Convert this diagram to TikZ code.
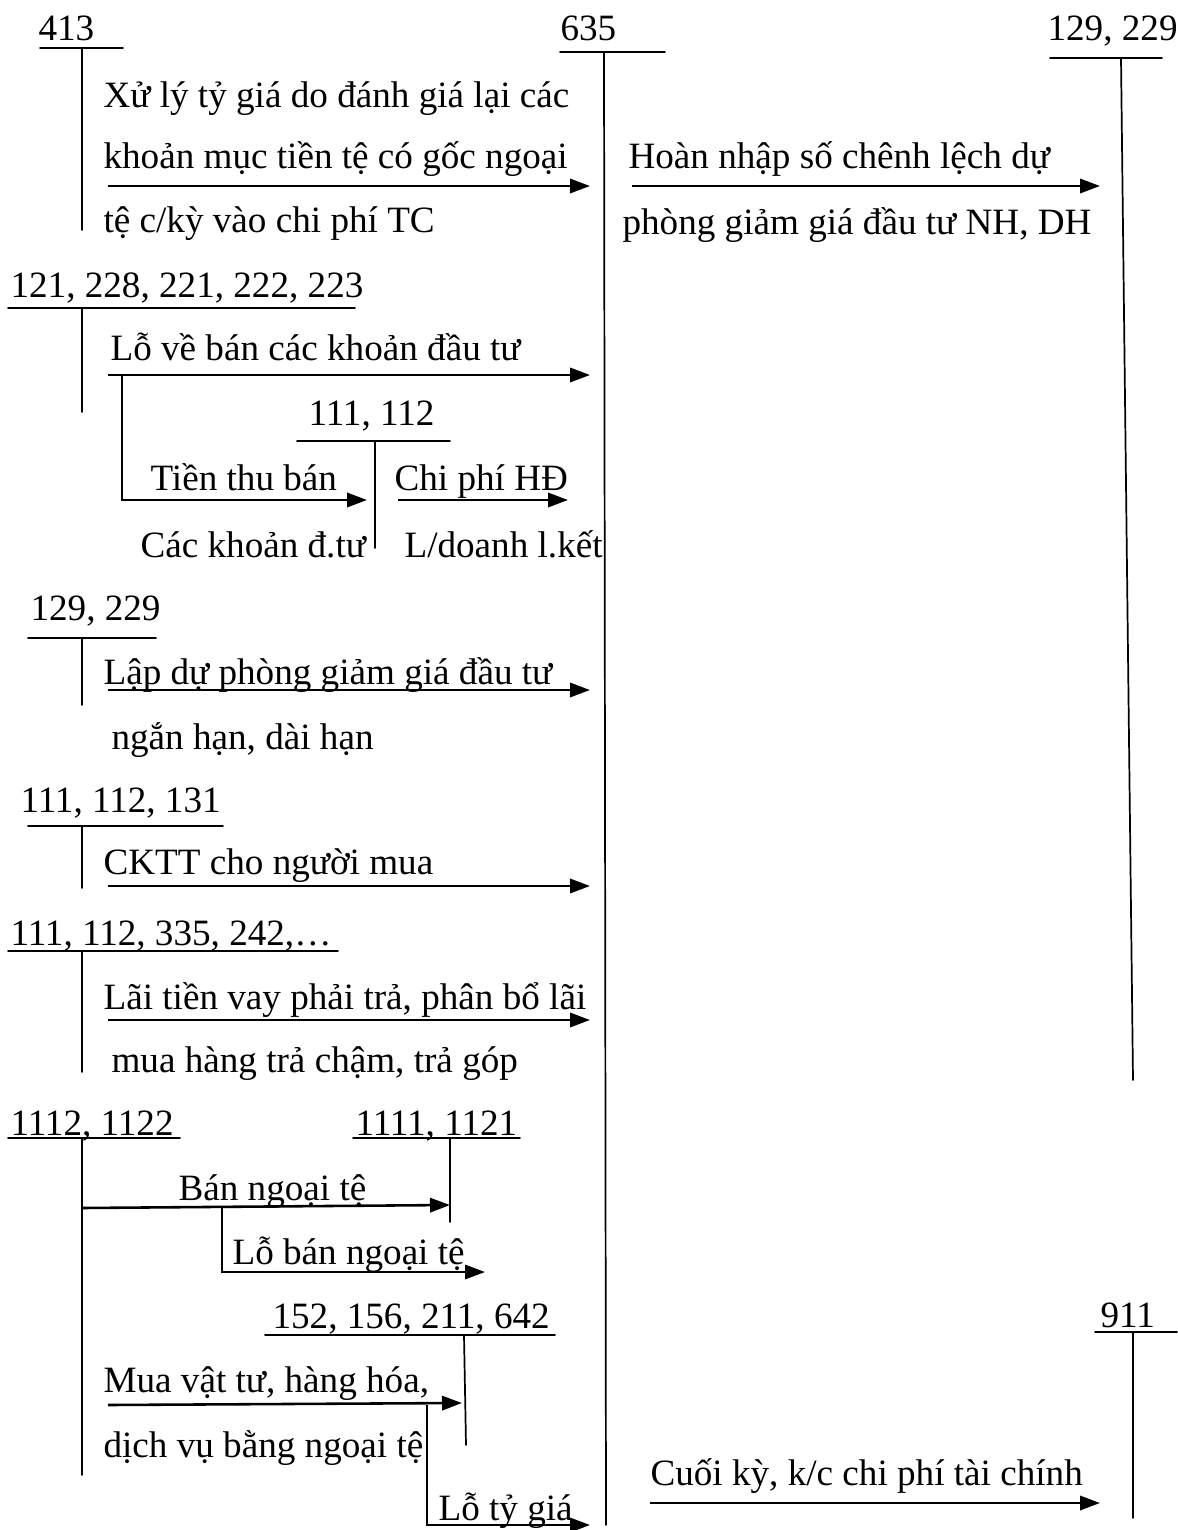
\documentclass[tikz,border=0pt]{standalone}
\usepackage{fontspec}
\setmainfont{Liberation Serif}
\usetikzlibrary{arrows.meta}
\tikzset{
  acct/.style={line width=0.6pt, line cap=round},
  flow/.style={line width=0.9pt, -{Triangle[length=7pt,width=5pt]}},
  lbl/.style={anchor=base west, inner sep=0pt, font=\fontsize{13}{15}\selectfont},
}
\begin{document}
\begin{tikzpicture}[x=0.35pt, y=-0.35pt]
% page frame in pixels of the sheet
\useasboundingbox (0,0) rectangle (1177,1530);
% Account labels
\node[lbl] (n413) at (38,40) {413};
\node[lbl] (n635) at (560,40) {635};
\node[lbl] (n129top) at (1047,40) {129, 229};
\node[lbl] (n121) at (10,297) {121, 228, 221, 222, 223};
\node[lbl] (n111a) at (308,425) {111, 112};
\node[lbl] (n129) at (30,620) {129, 229};
\node[lbl] (n111b) at (20,812) {111, 112, 131};
\node[lbl] (n111c) at (10,945) {111, 112, 335, 242,\ldots};
\node[lbl] (n1112) at (10,1135) {1112, 1122};
\node[lbl] (n1111) at (355,1135) {1111, 1121};
\node[lbl] (n152) at (272,1328) {152, 156, 211, 642};
\node[lbl] (n911) at (1100,1327) {911};
% T-accounts
\begin{scope}[acct]
  \draw (40,48) -- (123,48);      \draw (82,48) -- (82,230);
  \draw (560,52) -- (665,52);     \draw (604,52) -- (606,1525);
  \draw (1050,58) -- (1162,58);   \draw (1121,58) -- (1133,1080);
  \draw (8,308) -- (355,308);     \draw (82,308) -- (82,412);
  \draw (297,441) -- (450,441);   \draw (375,441) -- (375,548);
  \draw (28,638) -- (156,638);    \draw (82,638) -- (82,705);
  \draw (28,826) -- (223,826);    \draw (82,826) -- (82,888);
  \draw (8,951) -- (338,951);     \draw (82,951) -- (82,1072);
  \draw (8,1138) -- (180,1138);   \draw (82,1138) -- (82,1475);
  \draw (353,1138) -- (520,1138); \draw (450,1138) -- (450,1222);
  \draw (265,1335) -- (555,1335); \draw (464,1335) -- (466,1445);
  \draw (1095,1332) -- (1177,1332); \draw (1133,1332) -- (1133,1518);
\end{scope}
% Arrow ends
\coordinate (a1s) at (108,186);  \coordinate (a1e) at (590,186);
\coordinate (a2s) at (632,186);  \coordinate (a2e) at (1100,186);
\coordinate (a3s) at (108,375);  \coordinate (a3e) at (590,375);
\coordinate (b3s) at (122,375);  \coordinate (b3m) at (122,500);
\coordinate (b3e) at (367,500);
\coordinate (a4s) at (398,500);  \coordinate (a4e) at (568,500);
\coordinate (a5s) at (108,690);  \coordinate (a5e) at (590,690);
\coordinate (a6s) at (108,886);  \coordinate (a6e) at (590,886);
\coordinate (a7s) at (108,1020); \coordinate (a7e) at (590,1020);
\coordinate (a8s) at (82,1208);  \coordinate (a8e) at (450,1205);
\coordinate (b8s) at (222,1207); \coordinate (b8m) at (222,1272);
\coordinate (b8e) at (485,1272);
\coordinate (a9s) at (108,1405); \coordinate (a9e) at (462,1403);
\coordinate (b9s) at (427,1405); \coordinate (b9m) at (427,1525);
\coordinate (b9e) at (590,1525);
\coordinate (a10s) at (650,1503); \coordinate (a10e) at (1100,1503);
% Flows
\draw[flow] (a1s) -- (a1e);
\draw[flow] (a2s) -- (a2e);
\draw[flow] (a3s) -- (a3e);
\draw[flow] (b3s) -- (b3m) -- (b3e);
\draw[flow] (a4s) -- (a4e);
\draw[flow] (a5s) -- (a5e);
\draw[flow] (a6s) -- (a6e);
\draw[flow] (a7s) -- (a7e);
\draw[flow] (a8s) -- (a8e);
\draw[flow] (b8s) -- (b8m) -- (b8e);
\draw[flow] (a9s) -- (a9e);
\draw[flow] (b9s) -- (b9m) -- (b9e);
\draw[flow] (a10s) -- (a10e);
% Texts
\node[lbl] (t1a) at (103,107) {Xử lý tỷ giá do đánh giá lại các};
\node[lbl] (t1b) at (103,168) {khoản mục tiền tệ có gốc ngoại};
\node[lbl] (t1c) at (103,232) {tệ c/kỳ vào chi phí TC};
\node[lbl] (t2a) at (628,168) {Hoàn nhập số chênh lệch dự};
\node[lbl] (t2b) at (622,234) {phòng giảm giá đầu tư NH, DH};
\node[lbl] (t3) at (110,360) {Lỗ về bán các khoản đầu tư};
\node[lbl] (t3a) at (150,490) {Tiền thu bán};
\node[lbl] (t3b) at (140,557) {Các khoản đ.tư};
\node[lbl] (t4a) at (394,490) {Chi phí HĐ};
\node[lbl] (t4b) at (404,557) {L/doanh l.kết};
\node[lbl] (t5a) at (103,684) {Lập dự phòng giảm giá đầu tư};
\node[lbl] (t5b) at (111,749) {ngắn hạn, dài hạn};
\node[lbl] (t6) at (103,874) {CKTT cho người mua};
\node[lbl] (t7a) at (103,1009) {Lãi tiền vay phải trả, phân bổ lãi};
\node[lbl] (t7b) at (111,1072) {mua hàng trả chậm, trả góp};
\node[lbl] (t8) at (178,1200) {Bán ngoại tệ};
\node[lbl] (t8b) at (232,1264) {Lỗ bán ngoại tệ};
\node[lbl] (t9a) at (103,1392) {Mua vật tư, hàng hóa,};
\node[lbl] (t9b) at (103,1457) {dịch vụ bằng ngoại tệ};
\node[lbl] (t9c) at (438,1520) {Lỗ tỷ giá};
\node[lbl] (t10) at (650,1485) {Cuối kỳ, k/c chi phí tài chính};
\end{tikzpicture}
\end{document}
